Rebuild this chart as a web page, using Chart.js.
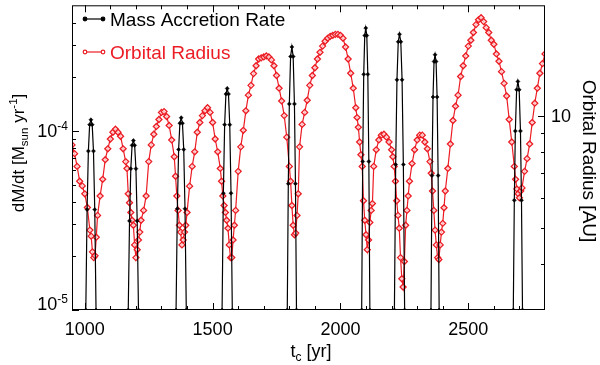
<!DOCTYPE html>
<html>
<head>
<meta charset="utf-8">
<script src="https://cdn.jsdelivr.net/npm/chart.js@4.4.0/dist/chart.umd.min.js"></script>
<style>
  html, body { margin: 0; padding: 0; background: #fff; }
  #wrap { width: 600px; height: 365px; }
</style>
</head>
<body>
<div id="wrap"><canvas id="chart" width="600" height="365"></canvas></div>
<script>
// ========== DATOS ==========
// orbital radius [AU] vs t_c [yr]
const radYears = [950, 960, 970, 980, 990, 1000, 1010, 1020, 1025, 1030, 1035, 1040, 1045, 1050, 1060, 1070, 1080, 1090, 1100,
  1110, 1120, 1130, 1140, 1150, 1160, 1165, 1170, 1175, 1180, 1185, 1190, 1195, 1200, 1205, 1210, 1215, 1220, 1230, 1240,
  1250, 1260, 1270, 1280, 1290, 1300, 1310, 1320, 1330, 1340, 1350, 1355, 1360, 1365, 1370, 1375, 1380, 1385, 1390, 1395,
  1400, 1410, 1420, 1430, 1440, 1450, 1460, 1470, 1480, 1490, 1500, 1510, 1520, 1530, 1535, 1540, 1545, 1550, 1555, 1560,
  1565, 1570, 1575, 1580, 1585, 1590, 1600, 1610, 1620, 1630, 1640, 1650, 1660, 1670, 1680, 1690, 1700, 1710, 1720, 1730,
  1740, 1750, 1760, 1770, 1780, 1790, 1800, 1805, 1810, 1815, 1820, 1825, 1830, 1835, 1840, 1850, 1860, 1870, 1880, 1890,
  1900, 1910, 1920, 1930, 1940, 1950, 1960, 1970, 1980, 1990, 2000, 2010, 2020, 2030, 2040, 2050, 2060, 2065, 2070, 2075,
  2080, 2085, 2090, 2095, 2100, 2105, 2110, 2115, 2120, 2125, 2130, 2140, 2150, 2160, 2170, 2180, 2190, 2200, 2205, 2210,
  2215, 2220, 2225, 2230, 2235, 2240, 2245, 2250, 2255, 2260, 2265, 2270, 2280, 2290, 2300, 2310, 2320, 2330, 2340, 2350,
  2355, 2360, 2365, 2370, 2375, 2380, 2385, 2390, 2395, 2400, 2405, 2410, 2420, 2430, 2440, 2450, 2460, 2470, 2480, 2490,
  2500, 2510, 2520, 2530, 2540, 2550, 2560, 2570, 2580, 2590, 2600, 2610, 2620, 2630, 2640, 2650, 2660, 2670, 2680, 2685,
  2690, 2695, 2700, 2705, 2710, 2720, 2730, 2740, 2750, 2760, 2770, 2780, 2790, 2800];
const radius = [8.34, 7.9, 7.3, 6.66, 6.47, 6.16, 5.66, 4.92, 4.74, 4.3, 4.15, 4.2, 4.71, 5.39, 6.08, 6.74, 7.61, 8.14, 8.65,
  9.02, 9.19, 9.02, 8.8, 8.14, 7.52, 7.21, 6.16, 5.83, 5.49, 5.23, 5.07, 4.49, 4.15, 4.36, 4.63, 4.86, 5.23, 5.56, 6.08,
  7.52, 8.34, 8.91, 9.35, 9.76, 10.2, 10.25, 9.94, 9.41, 8.6, 7.75, 6.87, 6.08, 5.56, 5.07, 4.86, 4.49, 4.63, 4.86, 5.07,
  5.49, 6.46, 7.3, 7.99, 9.02, 9.58, 10.0, 10.3, 10.5, 10.2, 9.58, 8.65, 7.99, 7.21, 6.66, 6.08, 5.73, 5.49, 5.23, 4.98,
  4.49, 4.15, 4.15, 4.63, 5.07, 5.56, 7.08, 8.24, 9.13, 10.3, 11.35, 12.06, 12.97, 13.62, 14.2, 14.3, 14.38, 14.47, 14.38, 14.12,
  13.62, 12.82, 11.85, 10.95, 10.0, 8.75, 7.3, 6.66, 5.73, 5.07, 4.78, 4.83, 5.39, 6.16, 8.24, 9.47, 10.2, 11.0, 12.06, 12.82,
  13.45, 14.2, 14.8, 15.38, 15.85, 16.14, 16.34, 16.44, 16.54, 16.54, 16.44, 16.14, 15.29, 14.2, 13.0, 11.85, 10.5, 9.88, 9.3, 8.49,
  7.85, 7.3, 5.9, 5.23, 4.78, 4.36, 4.63, 5.16, 5.56, 5.8, 7.3, 8.09, 8.6, 8.86, 8.91, 8.75, 8.49, 8.09, 7.75, 7.3,
  6.66, 5.9, 5.39, 4.98, 4.15, 3.64, 3.46, 4.05, 5.07, 5.56, 6.08, 6.66, 7.43, 8.09, 8.6, 8.86, 8.86, 8.49, 8.14, 7.52,
  7.0, 6.27, 5.56, 4.92, 4.49, 4.15, 4.1, 4.49, 4.86, 5.13, 5.65, 6.27, 7.21, 8.39, 9.7, 10.6, 11.35, 12.74, 13.62, 14.47,
  15.38, 15.95, 16.73, 17.57, 18.1, 18.33, 17.9, 17.24, 16.73, 15.95, 15.56, 14.65, 14.0, 13.13, 12.21, 11.29, 9.76, 8.49, 7.3, 6.74,
  6.35, 6.16, 6.01, 6.27, 6.39, 7.08, 7.66, 8.39, 9.58, 10.8, 11.85, 13.0, 13.8, 14.65];

// mass accretion rate [Msun/yr], spikes at each periastron passage
const accYears = [
  998, 1004, 1009, 1014, 1019, 1024, 1029, 1034, 1039, 1044, 1050,
  1164, 1170, 1175, 1180, 1185, 1190, 1195, 1200, 1205, 1210, 1216,
  1351, 1357, 1362, 1367, 1372, 1377, 1382, 1387, 1392, 1397, 1403,
  1531, 1537, 1542, 1547, 1552, 1557, 1562, 1567, 1572, 1577, 1583,
  1786, 1792, 1796, 1800, 1805, 1810, 1815, 1820, 1824, 1828, 1834,
  2077, 2083, 2087, 2091, 2095, 2099, 2103, 2107, 2111, 2115, 2121,
  2205, 2211, 2216, 2221, 2226, 2231, 2236, 2241, 2246, 2251, 2257,
  2348, 2354, 2358, 2362, 2366, 2370, 2374, 2378, 2382, 2386, 2392,
  2670, 2676, 2680, 2684, 2689, 2694, 2699, 2704, 2708, 2712, 2718];
const accRate = [
  9.1e-7, 1.0e-5, 3.63e-5, 7.69e-5, 1.08e-4, 1.15e-4, 1.08e-4, 7.69e-5, 3.63e-5, 1.0e-5, 9.1e-7,
  1.19e-6, 1.0e-5, 3.14e-5, 6.14e-5, 8.28e-5, 8.8e-5, 8.28e-5, 6.14e-5, 3.14e-5, 1.0e-5, 1.19e-6,
  8.9e-7, 1.0e-5, 3.67e-5, 7.85e-5, 1.10e-4, 1.18e-4, 1.10e-4, 7.85e-5, 3.67e-5, 1.0e-5, 8.9e-7,
  6.2e-7, 1.0e-5, 4.48e-5, 1.08e-4, 1.60e-4, 1.72e-4, 1.60e-4, 1.08e-4, 4.48e-5, 1.0e-5, 6.2e-7,
  2.3e-7, 1.0e-5, 5.06e-5, 1.41e-4, 2.59e-4, 2.93e-4, 2.59e-4, 1.41e-4, 5.06e-5, 1.0e-5, 2.3e-7,
  1.0e-7, 1.0e-5, 6.73e-5, 2.06e-4, 3.39e-4, 3.73e-4, 3.39e-4, 2.06e-4, 6.73e-5, 1.0e-5, 1.0e-7,
  3.1e-7, 1.0e-5, 6.47e-5, 1.92e-4, 3.13e-4, 3.45e-4, 3.13e-4, 1.92e-4, 6.47e-5, 1.0e-5, 3.1e-7,
  1.4e-7, 1.0e-5, 5.62e-5, 1.54e-4, 2.43e-4, 2.65e-4, 2.43e-4, 1.54e-4, 5.62e-5, 1.0e-5, 1.4e-7,
  3.9e-7, 1.0e-5, 4.09e-5, 9.95e-5, 1.69e-4, 1.88e-4, 1.69e-4, 9.95e-5, 4.09e-5, 1.0e-5, 3.9e-7];

// ticks
const xMajor = [1000, 1500, 2000, 2500];
const xMinor = [1100, 1200, 1300, 1400, 1600, 1700, 1800, 1900, 2100, 2200, 2300, 2400, 2600, 2700];
const leftMajor = [1e-5, 1e-4];
const leftMinor = [2e-5, 3e-5, 4e-5, 5e-5, 6e-5, 7e-5, 8e-5, 9e-5, 2e-4, 3e-4, 4e-4];
const rightMajor = [10];
const rightMinor = [4, 5, 6, 7, 8, 9];

const RED = "rgb(236, 28, 36)";
const FONT = '"Liberation Sans", Arial, Helvetica, sans-serif';

// texto con subindices / superindices: [texto, tamaño, desplazamiento]
function drawParts(ctx, parts, x, y, align) {
  let w = 0;
  parts.forEach(p => { ctx.font = p[1] + "px " + FONT; w += ctx.measureText(p[0]).width; });
  let cx = align === "center" ? x - w / 2 : (align === "right" ? x - w : x);
  ctx.textAlign = "left";
  parts.forEach(p => {
    ctx.font = p[1] + "px " + FONT;
    ctx.fillText(p[0], cx, y + p[2]);
    cx += ctx.measureText(p[0]).width;
  });
}

// ========== EJES, TICKS Y LEYENDA ==========
const frame = {
  id: "frame",
  afterDraw(chart) {
    const { ctx, chartArea: a, scales } = chart;
    const sx = scales.x, sl = scales.y, sr = scales.y2;
    ctx.save();
    ctx.strokeStyle = "#000";
    ctx.lineWidth = 1;
    ctx.strokeRect(a.left + 0.5, a.top + 0.5, a.right - a.left - 1, a.bottom - a.top - 1);

    ctx.beginPath();
    const xt = (v, len) => {
      const p = Math.round(sx.getPixelForValue(v)) + 0.5;
      ctx.moveTo(p, a.bottom); ctx.lineTo(p, a.bottom - len);
      ctx.moveTo(p, a.top); ctx.lineTo(p, a.top + len);
    };
    xMajor.forEach(v => xt(v, 7));
    xMinor.forEach(v => xt(v, 4));
    const lt = (v, len) => {
      const p = Math.round(sl.getPixelForValue(v)) + 0.5;
      ctx.moveTo(a.left, p); ctx.lineTo(a.left + len, p);
    };
    leftMajor.forEach(v => lt(v, 7));
    leftMinor.forEach(v => lt(v, 4));
    const rt = (v, len) => {
      const p = Math.round(sr.getPixelForValue(v)) + 0.5;
      ctx.moveTo(a.right, p); ctx.lineTo(a.right - len, p);
    };
    rightMajor.forEach(v => rt(v, 7));
    rightMinor.forEach(v => rt(v, 4));
    ctx.stroke();

    // etiquetas
    ctx.fillStyle = "#000";
    ctx.textBaseline = "alphabetic";
    ctx.font = "18px " + FONT;
    ctx.textAlign = "center";
    xMajor.forEach(v => ctx.fillText(String(v), sx.getPixelForValue(v), 335));

    leftMajor.forEach(v => {
      const py = Math.min(sl.getPixelForValue(v), a.bottom - 7);
      const e = Math.round(Math.log10(v));
      drawParts(ctx, [["10", 18, 0], [String(e), 12, -7]], 68, py + 6.5, "right");
    });
    rightMajor.forEach(v => {
      ctx.font = "18px " + FONT;
      ctx.textAlign = "left";
      ctx.fillText(String(v), 551, sr.getPixelForValue(v) + 6.5);
    });

    // titulos
    drawParts(ctx, [["t", 18, 0], ["c", 12, 4], [" [yr]", 18, 0]], 311, 357, "center");

    ctx.save();
    ctx.translate(24, 153);
    ctx.rotate(-Math.PI / 2);
    drawParts(ctx, [["dM/dt [M", 17, 0], ["sun", 11.5, 4], [" yr", 17, 0], ["-1", 11.5, -7], ["]", 17, 0]], 0, 0, "center");
    ctx.restore();

    ctx.save();
    ctx.translate(583, 161);
    ctx.rotate(Math.PI / 2);
    drawParts(ctx, [["Orbital Radius [AU]", 19, 0]], 0, 0, "center");
    ctx.restore();

    // leyenda
    chart.data.datasets.forEach((ds, i) => {
      const y = 19 + i * 33;
      ctx.strokeStyle = ds.borderColor;
      ctx.lineWidth = 1.2;
      ctx.beginPath();
      ctx.moveTo(85, y); ctx.lineTo(103, y);
      ctx.stroke();
      [85, 103].forEach(px => {
        ctx.beginPath();
        ctx.arc(px, y, 1.8, 0, Math.PI * 2);
        ctx.fillStyle = i === 0 ? "#000" : "#fff";
        ctx.fill();
        ctx.stroke();
      });
      ctx.fillStyle = ds.borderColor;
      ctx.font = "19px " + FONT;
      ctx.textAlign = "left";
      ctx.fillText(ds.label, 110, y + 7);
    });
    ctx.restore();
  }
};

// ========== GRAFICO ==========
const ctx = document.getElementById("chart").getContext("2d");
new Chart(ctx, {
  type: "line",
  data: {
    datasets: [{
      label: "Mass Accretion Rate",
      data: accYears.map((t, i) => ({ x: t, y: accRate[i] })),
      yAxisID: "y",
      borderColor: "#000",
      borderWidth: 1.2,
      pointStyle: "rectRot",
      pointRadius: 2,
      pointBackgroundColor: "#000",
      pointBorderColor: "#000",
      pointBorderWidth: 0.5,
      clip: 0
    }, {
      label: "Orbital Radius",
      data: radYears.map((t, i) => ({ x: t, y: radius[i] })),
      yAxisID: "y2",
      borderColor: RED,
      borderWidth: 1.2,
      pointStyle: "rectRot",
      pointRadius: 3,
      pointBackgroundColor: "rgba(255,225,225,0.8)",
      pointBorderColor: RED,
      pointBorderWidth: 1.3,
      clip: 0
    }]
  },
  options: {
    responsive: false,
    animation: false,
    events: [],
    layout: { padding: { top: 1, left: 0, right: 0, bottom: 0 } },
    plugins: { legend: { display: false }, tooltip: { enabled: false } },
    scales: {
      x: {
        type: "linear", min: 950, max: 2800,
        grid: { display: false, drawTicks: false }, border: { display: false },
        ticks: { display: false },
        afterFit: s => { s.height = 55; }
      },
      y: {
        type: "logarithmic", position: "left", min: 1e-5, max: 5e-4, bounds: "data",
        grid: { display: false, drawTicks: false }, border: { display: false },
        ticks: { display: false },
        afterFit: s => { s.width = 72; }
      },
      y2: {
        type: "logarithmic", position: "right", min: 3, max: 19.8, bounds: "data",
        grid: { display: false, drawTicks: false }, border: { display: false },
        ticks: { display: false },
        afterFit: s => { s.width = 55; }
      }
    }
  },
  plugins: [frame]
});
</script>
</body>
</html>
